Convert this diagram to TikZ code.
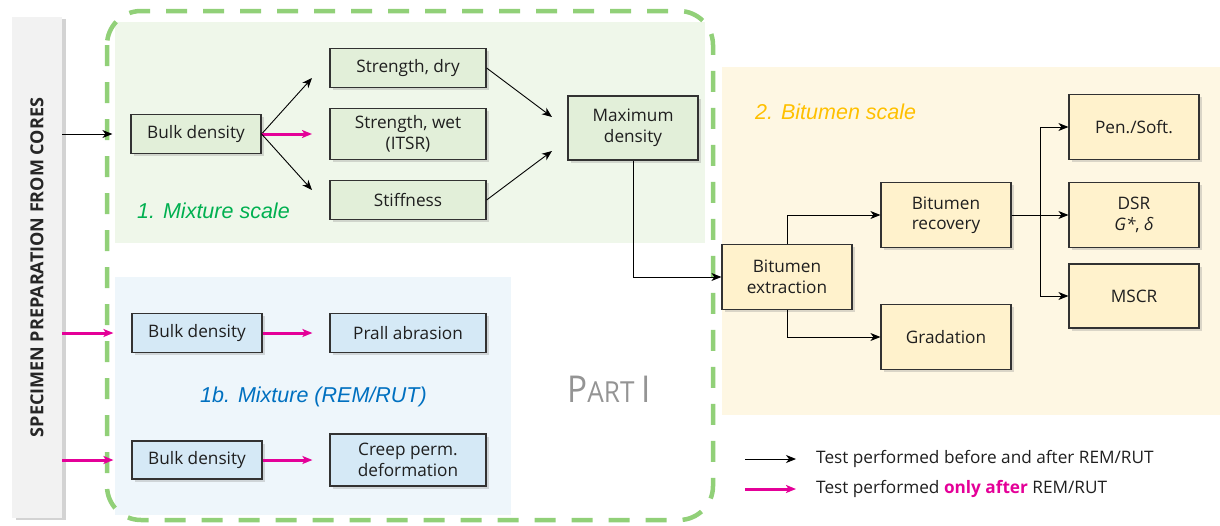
\documentclass[tikz,border=0pt]{standalone}
\usepackage{fontspec}
\setmainfont{Open Sans}
\newfontfamily\labelfont{Liberation Sans}
\usetikzlibrary{arrows.meta,shadows,calc}

\definecolor{mixbg}{RGB}{239,247,234}
\definecolor{remby}{RGB}{238,246,251}
\definecolor{bitbg}{RGB}{254,247,227}
\definecolor{mixbox}{RGB}{226,239,217}
\definecolor{rembox}{RGB}{213,233,246}
\definecolor{bitbox}{RGB}{255,242,204}
\definecolor{boxline}{RGB}{50,50,50}
\definecolor{frame}{RGB}{145,208,120}
\definecolor{pinkarrow}{RGB}{228,0,152}
\definecolor{mixtxt}{RGB}{0,176,80}
\definecolor{remtxt}{RGB}{0,112,192}
\definecolor{bittxt}{RGB}{255,192,0}
\definecolor{bargray}{RGB}{242,242,242}

\newcommand{\boxfont}{\fontsize{17.2}{20.5}\selectfont}
\newcommand{\scalefont}{\labelfont\itshape\fontsize{21.5}{24}\selectfont}

\tikzset{
  box/.style={draw=boxline, line width=1.2pt, minimum width=130pt,
    minimum height=39pt, align=center, font=\boxfont, inner sep=2pt,
    text=black!88,
    drop shadow={shadow xshift=2.5pt, shadow yshift=-2.5pt, opacity=0.28}},
  wide/.style={minimum width=156pt},
  mixnode/.style={box, fill=mixbox},
  remnode/.style={box, fill=rembox},
  bitnode/.style={box, fill=bitbox},
  arr/.style={-{Stealth[length=10pt,width=8pt,inset=3pt]}, line width=0.9pt, black},
  pinkarr/.style={-{Stealth[length=10pt,width=8pt,inset=2.5pt]}, line width=3pt, pinkarrow},
  scalelabel/.style={anchor=west, inner sep=0pt, font=\scalefont}
}

\begin{document}
\begin{tikzpicture}[x=1pt,y=-1pt]
\useasboundingbox (0,0) rectangle (1220,525);

% background panels
\fill[mixbg] (115,22) rectangle (705,243);
\fill[remby] (115,277) rectangle (511,515);
\fill[bitbg] (722,67) rectangle (1220,415);

% Part I frame
\draw[frame, line width=4.5pt, dash pattern=on 21pt off 16pt, rounded corners=34pt]
  (107,11) rectangle (713,520);

% specimen preparation bar
\node[fill=bargray, minimum width=50pt, minimum height=501pt, inner sep=0pt,
  drop shadow={shadow xshift=4pt, shadow yshift=-2pt, opacity=0.35}]
  (spec) at (37,267.5) {};
\node[rotate=90, font=\bfseries\fontsize{18}{21}\selectfont, text=black!85]
  (spectxt) at (spec.center) {SPECIMEN PREPARATION FROM CORES};

% 1. mixture scale
\node[mixnode] (bd1) at (196,134) {Bulk density};
\node[mixnode, wide] (sdry) at (408,68) {Strength, dry};
\node[mixnode, wide, minimum height=51pt] (swet) at (408,134) {Strength, wet\\(ITSR)};
\node[mixnode, wide] (stiff) at (408,200) {Stiffness};
\node[mixnode, minimum height=64pt] (maxd) at (633,128) {Maximum\\density};
\node[scalelabel, text=mixtxt] (mixlbl) at (137,211) {1. Mixture scale};

% 1b. mixture after REM/RUT
\node[remnode] (bd2) at (197,333) {Bulk density};
\node[remnode, wide] (prall) at (408,333) {Prall abrasion};
\node[remnode, minimum height=38pt] (bd3) at (197,460) {Bulk density};
\node[remnode, wide, minimum height=52pt] (creep) at (408,460) {Creep perm.\\deformation};
\node[scalelabel, text=remtxt] (remlbl) at (200,397) {1b. Mixture (REM/RUT)};

\node[text=black!42, inner sep=0pt, xscale=0.9] (part) at (609,389)
  {\fontsize{37}{40}\selectfont P\fontsize{29}{32}\selectfont ART \fontsize{37}{40}\selectfont I};

% 2. bitumen scale
\node[bitnode, minimum height=65pt] (bext) at (787,277) {Bitumen\\extraction};
\node[bitnode, minimum height=65pt] (brec) at (946,215) {Bitumen\\recovery};
\node[bitnode, minimum height=65pt] (grad) at (946,337) {Gradation};
\node[bitnode, minimum height=65pt] (pen) at (1134,127) {Pen./Soft.};
\node[bitnode, minimum height=65pt] (dsr) at (1134,215) {DSR\\\textit{G*}, \textit{δ}};
\node[bitnode, minimum height=64pt] (mscr) at (1134,296) {MSCR};
\node[scalelabel, text=bittxt] (bitlbl) at (755,112) {2. Bitumen scale};

% arrow end points in front of the targets
\coordinate (a1) at (312,78);
\coordinate (a2) at (312,134);
\coordinate (a3) at (312,190);
\coordinate (m1) at (552,117);
\coordinate (m2) at (552,151);
\coordinate (br) at (1040,215);

% connectors
\draw[arr, shorten >=18pt] (spec.east |- bd1) -- (bd1.west);
\draw[pinkarr, shorten >=18pt] (spec.east |- bd2) -- (bd2.west);
\draw[pinkarr, shorten >=18pt] (spec.east |- bd3) -- (bd3.west);

\draw[arr] (bd1.east) -- (a1);
\draw[pinkarr] (bd1.east) -- (a2);
\draw[arr] (bd1.east) -- (a3);
\draw[arr] (sdry.east) -- (m1);
\draw[arr] (stiff.east) -- (m2);

\draw[pinkarr, shorten >=17pt] (bd2.east) -- (prall.west);
\draw[pinkarr, shorten >=17pt] (bd3.east) -- (creep.west |- bd3.east);

\draw[arr] (maxd.south) |- (bext.west);
\draw[arr] (bext.north) |- (brec.west);
\draw[arr] (bext.south) |- (grad.west);
\draw[arr] (brec.east) -- (dsr.west);
\draw[arr] (br) |- (pen.west);
\draw[arr] (br) |- (mscr.west);

% legend
\coordinate (l1) at (745,459);
\coordinate (l2) at (745,489);
\node[anchor=west, font=\boxfont, inner sep=0pt, text=black!88] (leg1) at (816,459)
  {Test performed before and after REM/RUT};
\node[anchor=west, font=\boxfont, inner sep=0pt, text=black!88] (leg2) at (816,489)
  {Test performed \textcolor{pinkarrow}{\bfseries only after} REM/RUT};
\draw[arr, shorten >=20pt] (l1) -- (leg1.west);
\draw[pinkarr, shorten >=20pt] (l2) -- (leg2.west);
\end{tikzpicture}
\end{document}
